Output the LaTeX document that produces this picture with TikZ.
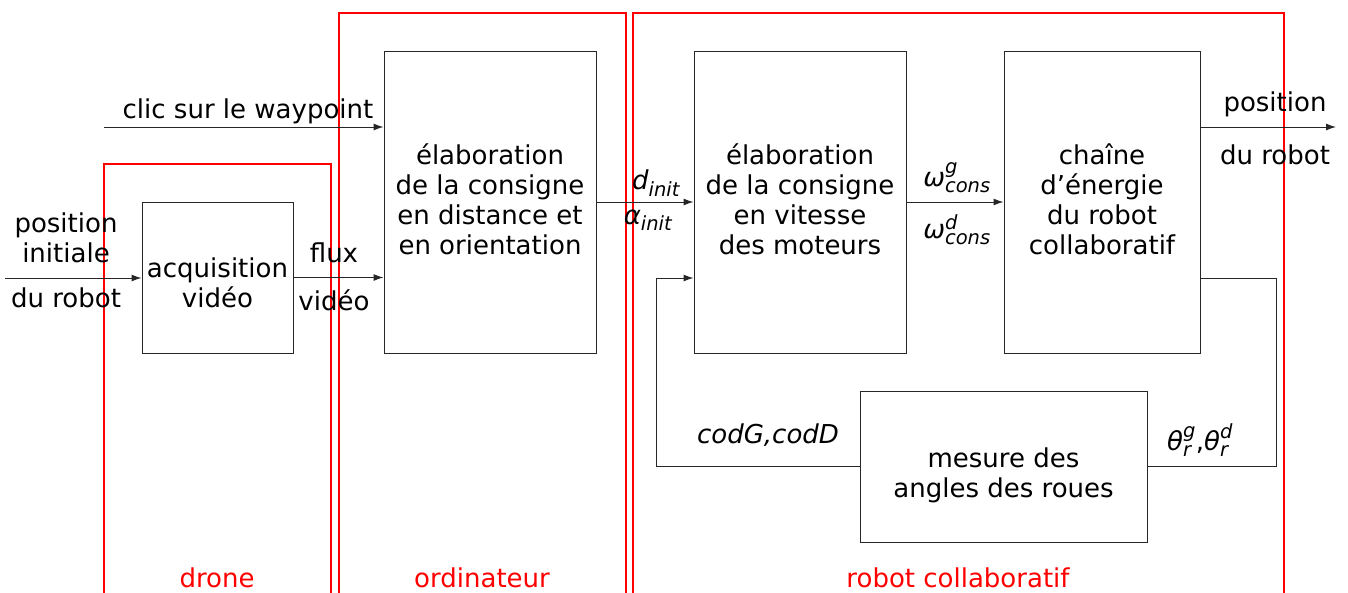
\documentclass[tikz,border=0pt]{standalone}
\usepackage{amsmath}
\usepackage{fontspec}
\setmainfont{DejaVu Sans}
\usetikzlibrary{arrows.meta,calc}
\renewcommand{\defaultscriptratio}{.75}
\tikzset{
  big/.style={font=\fontsize{26pt}{30pt}\selectfont},
  box/.style={draw=black!85, line width=1pt, inner sep=0pt, align=center, big},
  lbl/.style={inner sep=0pt, align=center, big},
  zone/.style={draw=red, line width=1.5pt},
  zonelbl/.style={inner sep=0pt, text=red, big},
  wire/.style={draw=black!85, line width=1pt},
  arr/.style={wire, -{Latex[length=10pt,width=7pt]}},
}
\newcommand{\mi}[1]{\textit{#1}}
% text block lowered inside its box without changing the box size
\newcommand{\shifted}[2]{\raisebox{#1}[0pt][0pt]{\begin{tabular}{@{}c@{}}#2\end{tabular}}}
\begin{document}
\begin{tikzpicture}[x=1pt,y=-1pt]
\clip (0,0) rectangle (1348,592);
\fill[white] (0,0) rectangle (1348,592);

% subsystem frames
\draw[zone] (104,600) -- (104,164) -- (331,164) -- (331,600);
\draw[zone] (339,600) -- (339,13) -- (626,13) -- (626,600);
\draw[zone] (633,600) -- (633,13) -- (1284,13) -- (1284,600);
\node[zonelbl] (zdrone) at (217,578) {drone};
\node[zonelbl] (zord) at (482,578) {ordinateur};
\node[zonelbl] (zrob) at (958,578) {robot collaboratif};

% blocks
\node[box, minimum width=151pt, minimum height=151pt] (acq) at (217.5,277.5) {\shifted{-15pt}{acquisition\\vidéo}};
\node[box, minimum width=212pt, minimum height=302pt] (dist) at (490,202) {\shifted{-7.5pt}{élaboration\\de la consigne\\en distance et\\en orientation}};
\node[box, minimum width=212pt, minimum height=302pt] (vit) at (800,202) {\shifted{-7.5pt}{élaboration\\de la consigne\\en vitesse\\des moteurs}};
\node[box, minimum width=196pt, minimum height=302pt] (chain) at (1102,202) {\shifted{-7.5pt}{chaîne\\d’énergie\\du robot\\collaboratif}};
\node[box, minimum width=287pt, minimum height=151pt] (mes) at (1003.5,466.5) {\shifted{-16pt}{mesure des\\angles des roues}};

% free ends
\coordinate (clic) at (104,127);
\coordinate (pin) at (5,278);
\coordinate (pout) at (1336,127);
\coordinate (fbR) at (1276,278);
\coordinate (fbL) at (656,466.5);

% connectors
\draw[arr] (clic) -- (clic -| dist.west);
\draw[arr] (pin) -- (pin -| acq.west);
\draw[arr] (acq.east) -- (acq.east -| dist.west);
\draw[arr] (dist.east) -- (vit.west);
\draw[arr] (vit.east) -- (chain.west);
\draw[arr] (pout -| chain.east) -- (pout);
\draw[wire] (fbR -| chain.east) -- (fbR) -- (fbR |- mes.east) -- (mes.east);
\draw[arr] (mes.west) -- (fbL) -- (fbL |- fbR) -- (fbR -| vit.west);

% signal labels
\node[lbl] (tclic) at (248,111) {clic sur le waypoint};
\node[lbl] (tpin1) at (66,238) {position\\initiale};
\node[lbl] (tpin2) at (66,298) {du robot};
\node[lbl] (tflux1) at (334,253) {flux};
\node[lbl] (tflux2) at (334,300) {vidéo};
\node[lbl] (tdinit) at (656,183) {$\mi{d}_{\mi{init}}$};
\node[lbl] (tainit) at (648,220) {$\mi{α}_{\mi{init}}$};
\node[lbl] (twg) at (957,178) {$\mi{ω}^{\mi{g}}_{\mi{cons}}$};
\node[lbl] (twd) at (957,230) {$\mi{ω}^{\mi{d}}_{\mi{cons}}$};
\node[lbl] (tpout1) at (1275,104) {position};
\node[lbl] (tpout2) at (1275,155) {du robot};
\node[lbl] (tcod) at (768,435) {\mi{codG,codD}};
\node[lbl] (ttheta) at (1200,440) {$\mi{θ}^{\mi{g}}_{\mi{r}}$,$\mi{θ}^{\mi{d}}_{\mi{r}}$};
\end{tikzpicture}
\end{document}
